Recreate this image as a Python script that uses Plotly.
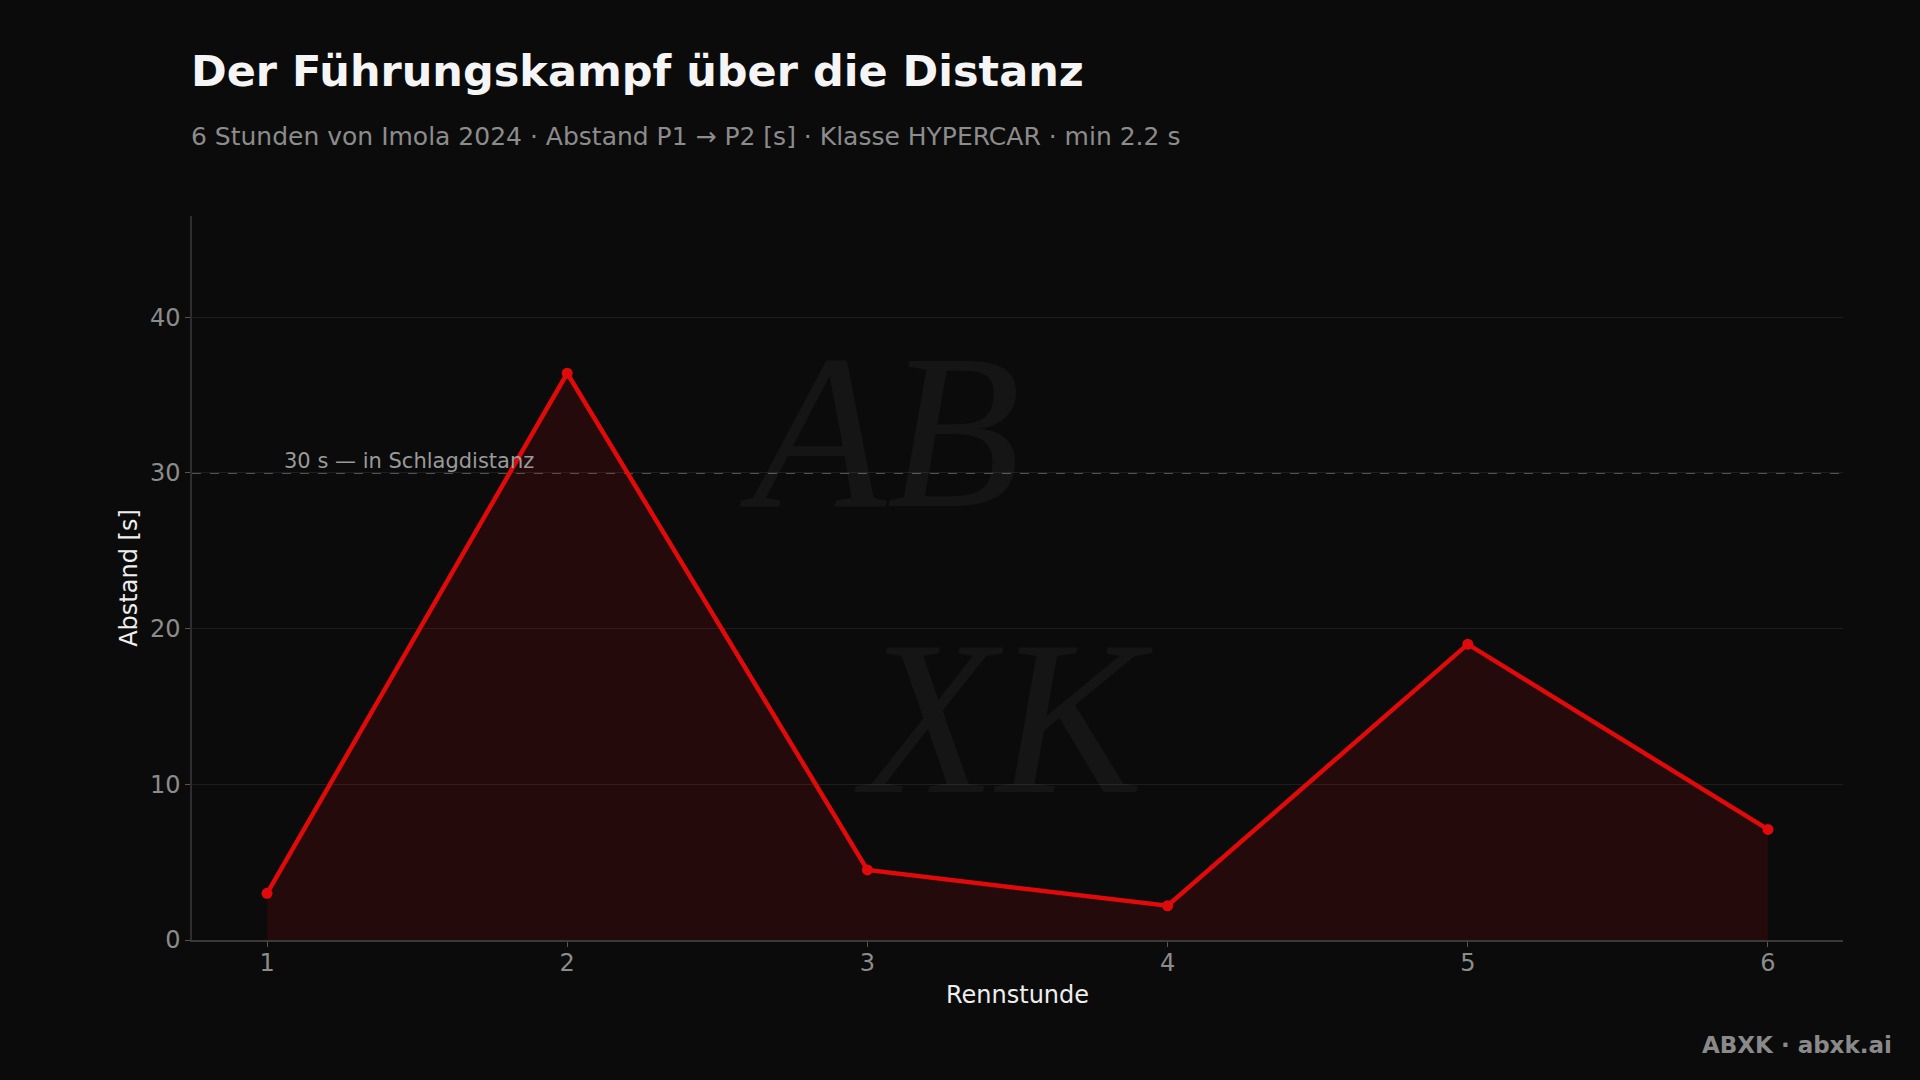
import plotly.graph_objects as go

hours = [1, 2, 3, 4, 5, 6]
gap_seconds = [3.0, 36.4, 4.5, 2.2, 19.0, 7.1]
threshold = 30
threshold_label = "30 s — in Schlagdistanz"
title_text = "Der Führungskampf über die Distanz"
subtitle_text = "6 Stunden von Imola 2024 · Abstand P1 → P2 [s] · Klasse HYPERCAR · min 2.2 s"
x_title = "Rennstunde"
y_title = "Abstand [s]"
footer_text = "ABXK · abxk.ai"
watermark_text = "AB<br>\u00a0\u00a0XK"

BG = "#0b0b0b"
RED = "#e00a0a"
FONT = "DejaVu Sans"

L, R, T, B = 192, 77, 216, 140
W, H = 1920, 1080
pw, ph = W - L - R, H - T - B


def px_x(x):
    return (x - L) / pw


def px_y(y_top):
    return (H - y_top - B) / ph


fig = go.Figure()
fig.add_trace(go.Scatter(
    x=hours, y=gap_seconds, mode="lines+markers",
    line=dict(color=RED, width=4.5),
    marker=dict(color=RED, size=11),
    fill="tozeroy", fillcolor="rgba(224,10,10,0.12)",
    showlegend=False, hoverinfo="x+y",
))

fig.add_shape(type="line", xref="paper", yref="y", x0=0, x1=1, y0=threshold, y1=threshold,
              line=dict(color="#6a6a6a", width=1.5, dash="dash"), layer="below")

annotations = [
    dict(text=threshold_label, xref="x", yref="y", x=1.05, y=threshold, xanchor="left", yanchor="bottom",
         showarrow=False, yshift=-2, font=dict(family=FONT, size=21, color="#9a9a9a")),
    dict(text=f"<i>{watermark_text}</i>", xref="paper", yref="paper", x=px_x(946), y=px_y(575),
         xanchor="center", yanchor="middle", align="left", showarrow=False,
         font=dict(family="Liberation Serif", size=220, color="rgba(255,255,255,0.045)")),
    dict(text=f"<b>{title_text}</b>", xref="paper", yref="paper", x=px_x(189), y=px_y(71),
         xanchor="left", yanchor="middle", showarrow=False, font=dict(family=FONT, size=43, color="#f5f5f5")),
    dict(text=subtitle_text, xref="paper", yref="paper", x=px_x(189), y=px_y(137),
         xanchor="left", yanchor="middle", showarrow=False, font=dict(family=FONT, size=25, color="#8c8c8c")),
    dict(text=f"<b>{footer_text}</b>", xref="paper", yref="paper", x=px_x(1894), y=px_y(1045),
         xanchor="right", yanchor="middle", showarrow=False, font=dict(family=FONT, size=23, color="#8a8a8a")),
]

fig.update_layout(
    width=W, height=H,
    paper_bgcolor=BG, plot_bgcolor=BG,
    margin=dict(l=L, r=R, t=T, b=B, autoexpand=False),
    font=dict(family=FONT, color="#8c8c8c"),
    annotations=annotations,
    xaxis=dict(
        range=[0.75, 6.25], tickmode="array", tickvals=hours, ticktext=[str(h) for h in hours],
        showgrid=False, zeroline=False, showline=True, linecolor="#3a3a3a", linewidth=1.5,
        ticks="outside", ticklen=5, tickcolor="#555555", tickwidth=1, ticklabelstandoff=-5,
        tickfont=dict(family=FONT, size=24, color="#8c8c8c"),
        title=dict(text=x_title, font=dict(family=FONT, size=24, color="#eeeeee"), standoff=11),
    ),
    yaxis=dict(
        range=[0, 46.5], tickvals=[0, 10, 20, 30, 40],
        showgrid=True, gridcolor="#1e1e1e", gridwidth=1, zeroline=False,
        showline=True, linecolor="#2e2e2e", linewidth=1.5,
        ticks="outside", ticklen=5, tickcolor="#555555", tickwidth=1,
        tickfont=dict(family=FONT, size=24, color="#8c8c8c"),
        title=dict(text=y_title, font=dict(family=FONT, size=24, color="#eeeeee"), standoff=6),
    ),
)

fig.write_html("out.html", config={"displayModeBar": False})

# remove the default page margin so the figure fills the window like the reference
with open("out.html", "r", encoding="utf-8") as f:
    html = f.read()
html = html.replace("<head>", "<head><style>html,body{margin:0;padding:0;background:#0b0b0b;overflow:hidden}</style>", 1)
with open("out.html", "w", encoding="utf-8") as f:
    f.write(html)
